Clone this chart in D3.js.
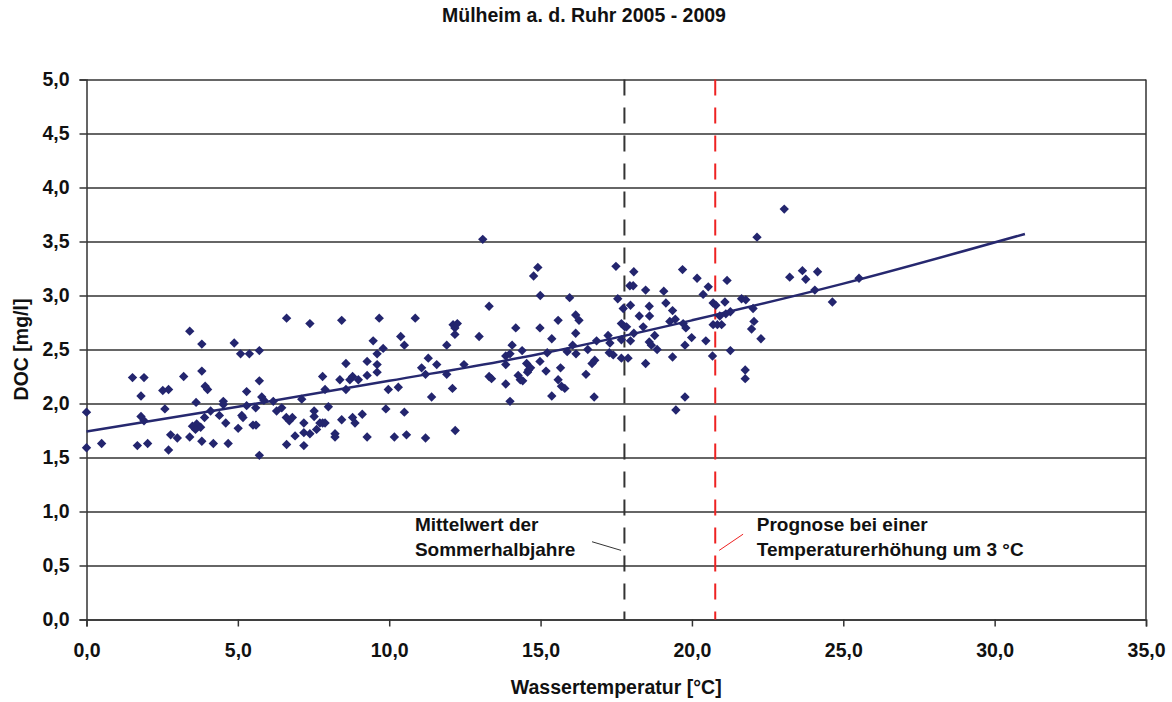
<!DOCTYPE html>
<html lang="de">
<head>
    <meta charset="UTF-8">
    <title>Mülheim a. d. Ruhr 2005 - 2009</title>
    <script src="https://d3js.org/d3.v7.min.js"></script>
    <style>
        body { margin: 0; background: #fff; }
        svg text { font-family: "Liberation Sans", Arial, sans-serif; font-weight: bold; fill: #111; }
    </style>
</head>
<body>
    <div id="graph"></div>
    <script>
        const messwerte = [
            [0.00,1.92],[0.00,1.59],[0.50,1.63],[1.52,2.24],[1.90,2.24],[1.80,2.07],[1.80,1.88],[1.90,1.84],[1.68,1.61],[2.02,1.63],
            [2.52,2.12],[2.71,2.13],[2.59,1.95],[2.78,1.71],[3.00,1.68],[2.71,1.57],[3.21,2.25],[3.41,2.67],[3.62,2.01],[3.41,1.69],
            [3.50,1.79],[3.64,1.81],[3.77,1.78],[3.60,1.76],[3.81,2.55],[3.81,2.30],[3.92,2.16],[4.00,2.13],[3.90,1.87],[3.81,1.65],
            [4.10,1.93],[4.19,1.63],[4.39,1.89],[4.52,2.02],[4.52,1.99],[4.60,1.82],[4.68,1.63],[4.88,2.56],[5.09,2.46],[5.38,2.46],
            [5.71,2.49],[5.29,2.11],[5.01,1.77],[5.13,1.89],[5.17,1.87],[5.29,1.98],[5.50,1.80],[5.60,1.80],[5.59,1.96],[5.71,2.21],
            [5.79,2.06],[5.86,2.03],[5.71,1.52],[6.17,2.02],[6.28,1.93],[6.45,1.96],[6.61,2.79],[6.60,1.87],[6.70,1.84],[6.80,1.87],
            [6.61,1.62],[6.89,1.70],[7.18,1.61],[7.18,1.82],[7.18,1.73],[7.11,2.04],[7.38,2.74],[7.38,1.72],[7.52,1.93],[7.52,1.88],
            [7.60,1.76],[7.71,1.82],[7.80,1.82],[7.88,1.82],[7.80,2.25],[7.88,2.13],[7.99,1.97],[8.21,1.72],[8.21,1.69],
            [8.37,2.22],[8.43,2.77],[8.57,2.37],[8.57,2.13],[8.70,2.22],[8.79,2.25],[8.98,2.22],[8.43,1.85],[8.79,1.87],[8.87,1.82],
            [9.11,1.90],[9.27,2.39],[9.27,2.26],[9.27,1.69],[9.47,2.58],[9.60,2.46],[9.60,2.36],[9.60,2.29],[9.67,2.79],[9.80,2.51],
            [9.89,1.95],[9.97,2.13],[10.17,1.69],[10.30,2.15],[10.38,2.62],[10.50,2.54],[10.50,1.92],[10.57,1.71],[10.86,2.79],[11.07,2.33],
            [11.20,2.27],[11.20,1.68],[11.29,2.42],[11.40,2.06],[11.57,2.36],[11.90,2.54],[11.90,2.27],[12.09,2.14],[12.11,2.73],[12.25,2.74],
            [12.17,2.70],[12.17,2.64],[12.18,1.75],[12.47,2.36],[12.97,2.62],[13.30,2.90],[13.30,2.25],[13.38,2.23],[13.85,2.44],[13.85,2.36],
            [13.85,2.18],[13.99,2.46],[13.99,2.02],[14.06,2.54],[14.18,2.70],[14.26,2.26],[14.33,2.22],[14.41,2.21],[14.39,2.49],[14.54,2.37],
            [14.60,2.31],[14.67,2.33],[14.57,2.29],[14.98,2.70],[14.98,2.39],[15.18,2.30],[15.22,2.47],[15.37,2.60],[15.37,2.07],[15.58,2.77],
            [15.58,2.22],[15.66,2.33],[15.69,2.16],[15.80,2.14],[15.88,2.48],[16.06,2.54],[16.16,2.82],[16.27,2.77],[16.16,2.65],[16.17,2.46],
            [16.50,2.27],[16.56,2.50],[16.70,2.37],[16.79,2.40],[16.77,2.06],[16.85,2.58],[17.23,2.63],[17.29,2.56],[17.27,2.47],[17.40,2.45],
            [13.09,3.52],[14.91,3.26],[14.77,3.18],[14.99,3.00],[15.96,2.98],[17.49,3.27],[17.55,2.97],
            [23.05,3.80],[22.15,3.54],[18.08,3.22],[17.95,3.09],[18.06,3.09],[18.47,3.05],[19.07,3.04],[19.69,3.24],[20.17,3.16],[20.54,3.08],
            [20.37,3.01],[21.16,3.14],[23.23,3.17],[23.65,3.23],[23.76,3.15],[24.15,3.22],[24.06,3.05],[24.64,2.94],[25.52,3.16],[17.73,2.88],
            [17.97,2.91],[18.59,2.90],[18.26,2.81],[18.60,2.81],[19.14,2.93],[19.36,2.86],[19.27,2.76],[19.45,2.78],[19.71,2.74],[19.80,2.70],
            [20.70,2.93],[20.79,2.91],[21.09,2.94],[21.64,2.97],[21.78,2.96],[20.70,2.73],[20.84,2.73],[20.98,2.73],[20.92,2.81],[21.12,2.83],
            [21.27,2.85],[22.02,2.88],[22.05,2.76],[21.97,2.69],[22.28,2.60],[17.67,2.74],[17.78,2.71],[17.84,2.71],[18.08,2.65],[18.39,2.71],
            [17.67,2.59],[17.97,2.58],[17.67,2.42],[17.89,2.42],[18.47,2.37],[18.59,2.57],[18.66,2.54],[18.77,2.63],[18.85,2.50],[19.36,2.43],
            [19.77,2.54],[19.99,2.61],[20.46,2.58],[20.68,2.44],[21.27,2.49],[21.76,2.31],[21.76,2.23],[19.47,1.94],[19.77,2.06]
        ];

        const trendTemp = [0, 5, 10, 15, 20, 25, 31];
        const trendDoc = [1.74, 1.97, 2.21, 2.46, 2.77, 3.11, 3.57];

        // senkrechte Markierungen (°C)
        const mittelwertSommer = 17.77;
        const prognose = 20.77;

        const xTicks = [0, 5, 10, 15, 20, 25, 30, 35];
        const yTicks = [0, 0.5, 1, 1.5, 2, 2.5, 3, 3.5, 4, 4.5, 5];

        const W = 1172, H = 702;
        const plotLeft = 86.5, plotRight = 1146, plotTop = 79.5, plotBottom = 619.5;

        const de = d3.formatLocale({decimal: ",", thousands: ".", grouping: [3], currency: ["", " €"]});
        const fmt = de.format(".1f");

        const svg = d3.select("#graph")
            .append("svg")
            .attr("width", W)
            .attr("height", H);

        const x = d3.scaleLinear().domain([0, 35]).range([plotLeft, plotRight]);
        const y = d3.scaleLinear().domain([0, 5]).range([plotBottom, plotTop]);

        // Gitterlinien
        svg.append("g")
            .attr("transform", `translate(${plotLeft},0)`)
            .call(d3.axisLeft(y).tickValues(yTicks).tickSize(-(plotRight - plotLeft)).tickFormat(""))
            .call(g => g.select(".domain").remove())
            .call(g => g.selectAll("line").attr("stroke", "#333").attr("stroke-width", 1.5));

        // rechter Rand
        svg.append("line")
            .attr("x1", x(35)).attr("x2", x(35))
            .attr("y1", y(0)).attr("y2", y(5))
            .attr("stroke", "#333").attr("stroke-width", 1.5);

        // Achsen
        const yAxis = svg.append("g")
            .attr("transform", `translate(${plotLeft},0)`)
            .call(d3.axisLeft(y).tickValues(yTicks).tickSize(7).tickPadding(10).tickFormat(fmt));
        yAxis.selectAll("text").style("font-size", "19.5px");

        const xAxis = svg.append("g")
            .attr("transform", `translate(0,${plotBottom})`)
            .call(d3.axisBottom(x).tickValues(xTicks).tickSize(7).tickPadding(17).tickFormat(fmt));
        xAxis.selectAll("text").style("font-size", "19.5px");

        svg.selectAll(".domain, .tick line").attr("stroke", "#333").attr("stroke-width", 1.5);

        // senkrechte gestrichelte Linien
        svg.append("line")
            .attr("x1", x(mittelwertSommer)).attr("x2", x(mittelwertSommer))
            .attr("y1", y(5)).attr("y2", y(0))
            .attr("stroke", "#333").attr("stroke-width", 2)
            .attr("stroke-dasharray", "16,12");

        svg.append("line")
            .attr("x1", x(prognose)).attr("x2", x(prognose))
            .attr("y1", y(5)).attr("y2", y(0))
            .attr("stroke", "#ee2222").attr("stroke-width", 2)
            .attr("stroke-dasharray", "16,12");

        // Trendlinie
        const trend = trendTemp.map((t, i) => [t, trendDoc[i]]);
        svg.append("path")
            .datum(trend)
            .attr("fill", "none")
            .attr("stroke", "#26286f")
            .attr("stroke-width", 2.5)
            .attr("d", d3.line().x(d => x(d[0])).y(d => y(d[1])).curve(d3.curveMonotoneX));

        // Messpunkte als Rauten
        const raute = d3.symbol().type(d3.symbolSquare).size(44);
        svg.append("g")
            .selectAll("path")
            .data(messwerte)
            .join("path")
            .attr("d", raute)
            .attr("transform", d => `translate(${x(d[0])},${y(d[1])}) rotate(45)`)
            .attr("fill", "#23256e");

        // Beschriftungen
        svg.append("text")
            .attr("x", 584).attr("y", 22)
            .attr("text-anchor", "middle")
            .style("font-size", "19.5px")
            .text("Mülheim a. d. Ruhr 2005 - 2009");

        svg.append("text")
            .attr("x", (plotLeft + plotRight) / 2).attr("y", 694)
            .attr("text-anchor", "middle")
            .style("font-size", "19.5px")
            .text("Wassertemperatur [°C]");

        svg.append("text")
            .attr("transform", `translate(28,${(plotTop + plotBottom) / 2}) rotate(-90)`)
            .attr("text-anchor", "middle")
            .style("font-size", "19.5px")
            .text("DOC [mg/l]");

        const notiz1 = svg.append("text").style("font-size", "19px");
        notiz1.append("tspan").attr("x", x(10.85)).attr("y", y(0.82)).text("Mittelwert der");
        notiz1.append("tspan").attr("x", x(10.85)).attr("y", y(0.59)).text("Sommerhalbjahre");

        const notiz2 = svg.append("text").style("font-size", "19px");
        notiz2.append("tspan").attr("x", x(22.14)).attr("y", y(0.82)).text("Prognose bei einer");
        notiz2.append("tspan").attr("x", x(22.14)).attr("y", y(0.59)).text("Temperaturerhöhung um 3 °C");

        svg.append("line")
            .attr("x1", x(16.70)).attr("y1", y(0.72))
            .attr("x2", x(17.66)).attr("y2", y(0.64))
            .attr("stroke", "#333").attr("stroke-width", 1);

        svg.append("line")
            .attr("x1", x(21.69)).attr("y1", y(0.79))
            .attr("x2", x(20.90)).attr("y2", y(0.64))
            .attr("stroke", "#ee2222").attr("stroke-width", 1);
    </script>
</body>
</html>
